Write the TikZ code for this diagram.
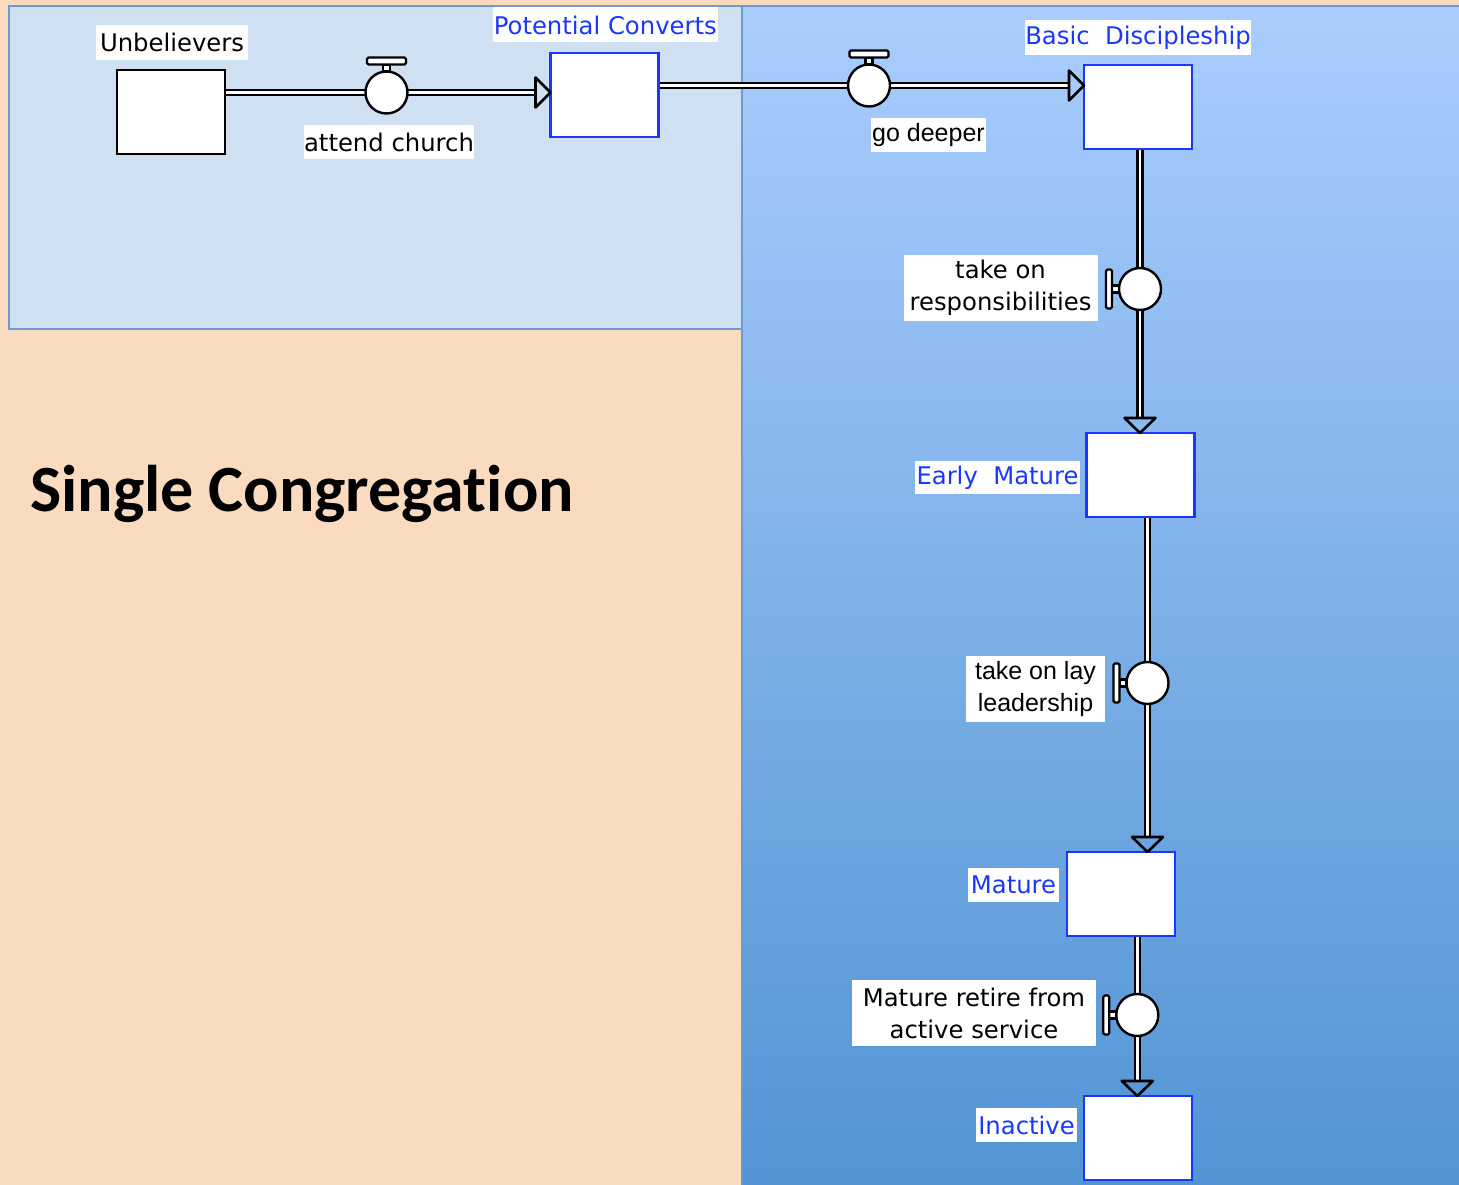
\documentclass[tikz,border=0pt]{standalone}
\usepackage{fontspec}
\setmainfont{DejaVu Sans}
\newfontfamily\titlefont[Ligatures=NoCommon]{Carlito}
\newfontfamily\helvfont{Liberation Sans}
\usetikzlibrary{calc}
\definecolor{peach}{RGB}{250,219,192}
\definecolor{paleblue}{RGB}{207,224,242}
\definecolor{edgeblue}{RGB}{108,155,208}
\definecolor{topblue}{RGB}{170,205,253}
\definecolor{botblue}{RGB}{82,148,212}
\definecolor{stockblue}{RGB}{25,55,255}
\pgfdeclarelayer{bg}
\pgfdeclarelayer{pipes}
\pgfsetlayers{bg,pipes,main}
\begin{document}
\begin{tikzpicture}[x=1pt,y=-1pt,
 stock/.style={draw=black, fill=white, line width=2.4pt, minimum width=108pt, minimum height=84pt, inner sep=0pt, outer sep=0pt},
 bstock/.style={stock, draw=stockblue},
 lbl/.style={fill=white, inner sep=0pt, align=center, font=\fontsize{24.3}{32}\selectfont},
 blbl/.style={lbl, text=stockblue},
 hlbl/.style={lbl, font=\helvfont\fontsize{25}{32}\selectfont},
 valve/.style={circle, draw=black, fill=white, line width=2.4pt, minimum size=42pt, inner sep=0pt, outer sep=0pt},
 pipe/.style={draw=black, line width=2.3pt, double=white, double distance=2.8pt},
 arrowhd/.style={draw=black, line width=2.6pt, line join=round},
 handle/.style={draw=black, fill=white, line width=2.2pt},
 pics/htop/.style={code={
   \draw[handle] (-3.5,-21) rectangle (3.5,-28);
   \draw[handle, rounded corners=1.5pt] (-19.5,-28) rectangle (19.5,-35);
 }},
 pics/hleft/.style={code={
   \draw[handle] (-21,-3.5) rectangle (-28,3.5);
   \draw[handle, rounded corners=1.5pt] (-28,-19.5) rectangle (-34,19.5);
 }},
]
\useasboundingbox (0,0) rectangle (1459,1185);

% backgrounds
\begin{pgfonlayer}{bg}
\fill[peach] (0,0) rectangle (1459,1185);
\draw[fill=paleblue, draw=edgeblue, line width=2pt] (9.3,6.2) rectangle (742,329);
\shade[top color=topblue, bottom color=botblue] (742,6.2) rectangle (1459,1185);
\draw[edgeblue, line width=2pt] (742,1185) -- (742,6.2) -- (1459,6.2);
\end{pgfonlayer}

% stocks
\node[stock]  (unb) at (171,112)    {};
\node[bstock] (pc)  at (604.5,95)   {};
\node[bstock] (bd)  at (1138,107)   {};
\node[bstock] (em)  at (1140.5,475) {};
\node[bstock] (mat) at (1121,894)   {};
\node[bstock] (ina) at (1138,1138)  {};

% valves
\node[valve] (v1) at (386.5,92.5) {};
\node[valve] (v2) at (869,85.5) {};
\node[valve] (v3) at (1140,289) {};
\node[valve] (v4) at (1147.5,683) {};
\node[valve] (v5) at (1137.3,1015) {};
\pic at (v1.center) {htop};
\pic at (v2.center) {htop};
\pic at (v3.center) {hleft};
\pic at (v4.center) {hleft};
\pic at (v5.center) {hleft};

% arrow geometry
\coordinate (t1) at (pc.west |- v1.center);
\coordinate (b1) at ($(t1)+(-15,0)$);
\coordinate (t2) at (bd.west |- v2.center);
\coordinate (b2) at ($(t2)+(-15,0)$);
\coordinate (t3) at (v3.center |- em.north);
\coordinate (b3) at ($(t3)+(0,-15)$);
\coordinate (t4) at (v4.center |- mat.north);
\coordinate (b4) at ($(t4)+(0,-15)$);
\coordinate (t5) at (v5.center |- ina.north);
\coordinate (b5) at ($(t5)+(0,-15)$);

% pipes
\begin{pgfonlayer}{pipes}
\draw[pipe] (unb.east |- v1.center) -- (v1.center) -- (b1);
\draw[pipe] (pc.east |- v2.center) -- (v2.center) -- (b2);
\draw[pipe] (v3.center |- bd.south) -- (v3.center) -- (b3);
\draw[pipe] (v4.center |- em.south) -- (v4.center) -- (b4);
\draw[pipe] (v5.center |- mat.south) -- (v5.center) -- (b5);
\end{pgfonlayer}

% arrowheads
\draw[arrowhd] ($(b1)+(0,-15)$) -- (t1) -- ($(b1)+(0,15)$) -- cycle;
\draw[arrowhd] ($(b2)+(0,-15)$) -- (t2) -- ($(b2)+(0,15)$) -- cycle;
\draw[arrowhd] ($(b3)+(-15.5,0)$) -- (t3) -- ($(b3)+(15.5,0)$) -- cycle;
\draw[arrowhd] ($(b4)+(-15.5,0)$) -- (t4) -- ($(b4)+(15.5,0)$) -- cycle;
\draw[arrowhd] ($(b5)+(-15.5,0)$) -- (t5) -- ($(b5)+(15.5,0)$) -- cycle;

% labels
\node[lbl, minimum width=152pt, minimum height=35pt] (lunb) at (172,42.5) {Unbelievers};
\node[lbl, minimum width=166pt, minimum height=34pt] (lv1) at (389,142) {attend church};
\node[blbl, minimum width=225pt, minimum height=35pt] (lpc) at (605.3,25) {Potential Converts};
\node[hlbl, minimum width=115pt, minimum height=34pt] (lv2) at (928.5,135.5) {go deeper};
\node[blbl, minimum width=222pt, minimum height=35pt] (lbd) at (1138,37.3) {Basic\ \ Discipleship};
\node[lbl, minimum width=194pt, minimum height=66pt] (lv3) at (1000.5,288) {take on\\responsibilities};
\node[blbl, minimum width=165pt, minimum height=33pt] (lem) at (997.5,477.5) {Early\ \ Mature};
\node[hlbl, minimum width=139pt, minimum height=66pt] (lv4) at (1035.5,689) {take on lay\\leadership};
\node[blbl, minimum width=91pt, minimum height=34pt] (lmat) at (1013.5,885) {Mature};
\node[lbl, minimum width=244pt, minimum height=66pt] (lv5) at (974,1013) {Mature retire from\\active service};
\node[blbl, minimum width=101pt, minimum height=34pt] (lina) at (1026.5,1125) {Inactive};

% title
\node[anchor=base west, inner sep=0pt, font=\titlefont\bfseries\fontsize{66}{70}\selectfont] (title) at (30,511) {Single Congregation};
\end{tikzpicture}
\end{document}
